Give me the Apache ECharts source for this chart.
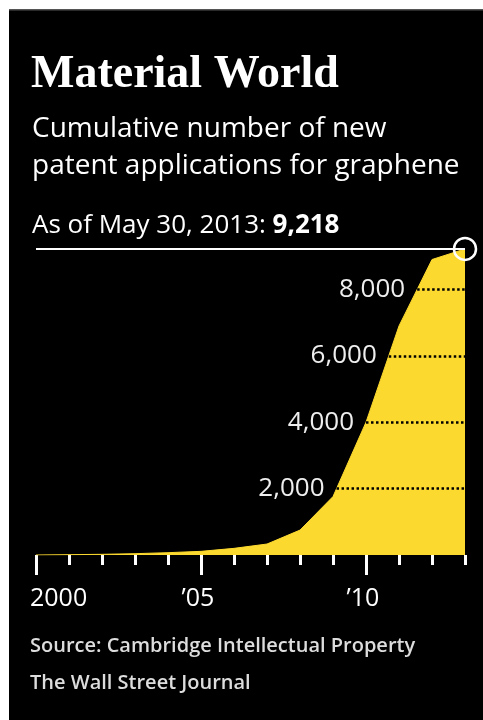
<!DOCTYPE html>
<html>
<head>
<meta charset="utf-8">
<script src="https://cdn.jsdelivr.net/npm/echarts@6/dist/echarts.min.js"></script>
<style>
  html, body { margin: 0; padding: 0; background: #fff; }
  #chart { width: 483px; height: 720px; }
</style>
</head>
<body>
<div id="chart"></div>
<script>
// cumulative graphene patent applications
var years = [2000, 2001, 2002, 2003, 2004, 2005, 2006, 2007, 2008, 2009, 2010, 2011, 2012, 2013];
var counts = [0, 10, 20, 40, 70, 110, 200, 330, 750, 1760, 4000, 6900, 8900, 9218];
var gridLevels = [2000, 4000, 6000, 8000];
var majorYears = [2000, 2005, 2010];
var latestValue = 9218;

var yellow = '#fcd92f';

// year where the curve first reaches a level (straight segments)
var crossYear = function(level){
    for (var i = 1; i < counts.length; i++) {
        if (counts[i] >= level) {
            var t = (level - counts[i-1]) / (counts[i] - counts[i-1]);
            return years[i-1] + t * (years[i] - years[i-1]);
        }
    }
    return years[years.length - 1];
};

var lastYear = years[years.length - 1];

var levelLines = gridLevels.map(function(v){
    return [
        { coord: [crossYear(v), v], label: { formatter: v.toLocaleString('en-US') } },
        { coord: [lastYear, v] }
    ];
});
levelLines.push([
    { coord: [years[0], latestValue], label: { show: false },
      lineStyle: { color: '#fff', type: 'solid', width: 2 } },
    { coord: [lastYear, latestValue] }
]);

var chart = echarts.init(document.getElementById('chart'));
chart.setOption({
    animation: false,
    backgroundColor: '#fff',
    grid: { left: 36, right: 18, top: 223, bottom: 165 },
    xAxis: [{
        type: 'value', min: 2000, max: 2013, interval: 1,
        axisLine: { show: false }, splitLine: { show: false },
        axisTick: { show: true, length: 10, lineStyle: { color: '#fff', width: 3 } },
        axisLabel: { show: false }
    }, {
        type: 'value', min: 2000, max: 2013, position: 'bottom', offset: 0,
        axisLine: { show: false }, splitLine: { show: false },
        axisTick: { show: true, length: 20, customValues: majorYears, lineStyle: { color: '#fff', width: 3 } },
        axisLabel: {
            customValues: majorYears, margin: 31, color: '#fff',
            fontFamily: 'Open Sans', fontSize: 25, alignMinLabel: 'left',
            padding: [0, 0, 0, -6],
            formatter: function(v){ return v === 2000 ? '2000' : '\u2019' + String(v).slice(2); }
        }
    }],
    yAxis: {
        type: 'value', min: 0, max: 10000, show: false, splitLine: { show: false }
    },
    graphic: [
        { type: 'rect', z: -10, shape: { x: 9, y: 9, width: 474, height: 711 }, style: { fill: '#000' } },
        { type: 'rect', z: -9, shape: { x: 9, y: 9, width: 474, height: 1.5 }, style: { fill: '#555' } },
        { type: 'text', x: 31, y: 52, style: { text: 'Material World', fill: '#fff',
            font: 'bold 46px "Liberation Serif"' } },
        { type: 'text', x: 32, y: 111, style: { text: 'Cumulative number of new\npatent applications for graphene',
            fill: '#fff', font: '28px "Open Sans"', lineHeight: 37 } },
        { type: 'text', x: 32, y: 213, style: {
            text: '{a|As of May 30, 2013: }{b|9,218}',
            rich: {
                a: { fill: '#fff', fontFamily: 'Open Sans', fontSize: 26 },
                b: { fill: '#fff', fontFamily: 'Open Sans', fontSize: 26, fontWeight: 'bold' }
            } } },
        { type: 'text', x: 30, y: 628, style: { text: 'Source: Cambridge Intellectual Property\nThe Wall Street Journal',
            fill: '#ddd', font: '600 20px "Open Sans"', lineHeight: 37 } }
    ],
    series: [{
        type: 'line',
        data: years.map(function(y, i){ return [y, counts[i]]; }),
        symbol: 'none',
        lineStyle: { color: yellow, width: 1 },
        areaStyle: { color: yellow, opacity: 1 },
        markLine: {
            silent: true,
            symbol: ['none', 'none'],
            lineStyle: { color: '#000', type: 'dotted', width: 2.5 },
            label: { show: true, position: 'start', distance: 12, color: '#eee',
                fontFamily: 'Open Sans', fontSize: 26 },
            data: levelLines
        },
        markPoint: {
            silent: true,
            symbol: 'circle', symbolSize: 22,
            itemStyle: { color: 'rgba(0,0,0,0)', borderColor: '#fff', borderWidth: 2.5 },
            label: { show: false },
            data: [{ coord: [lastYear, latestValue] }]
        }
    }]
});
</script>
</body>
</html>
